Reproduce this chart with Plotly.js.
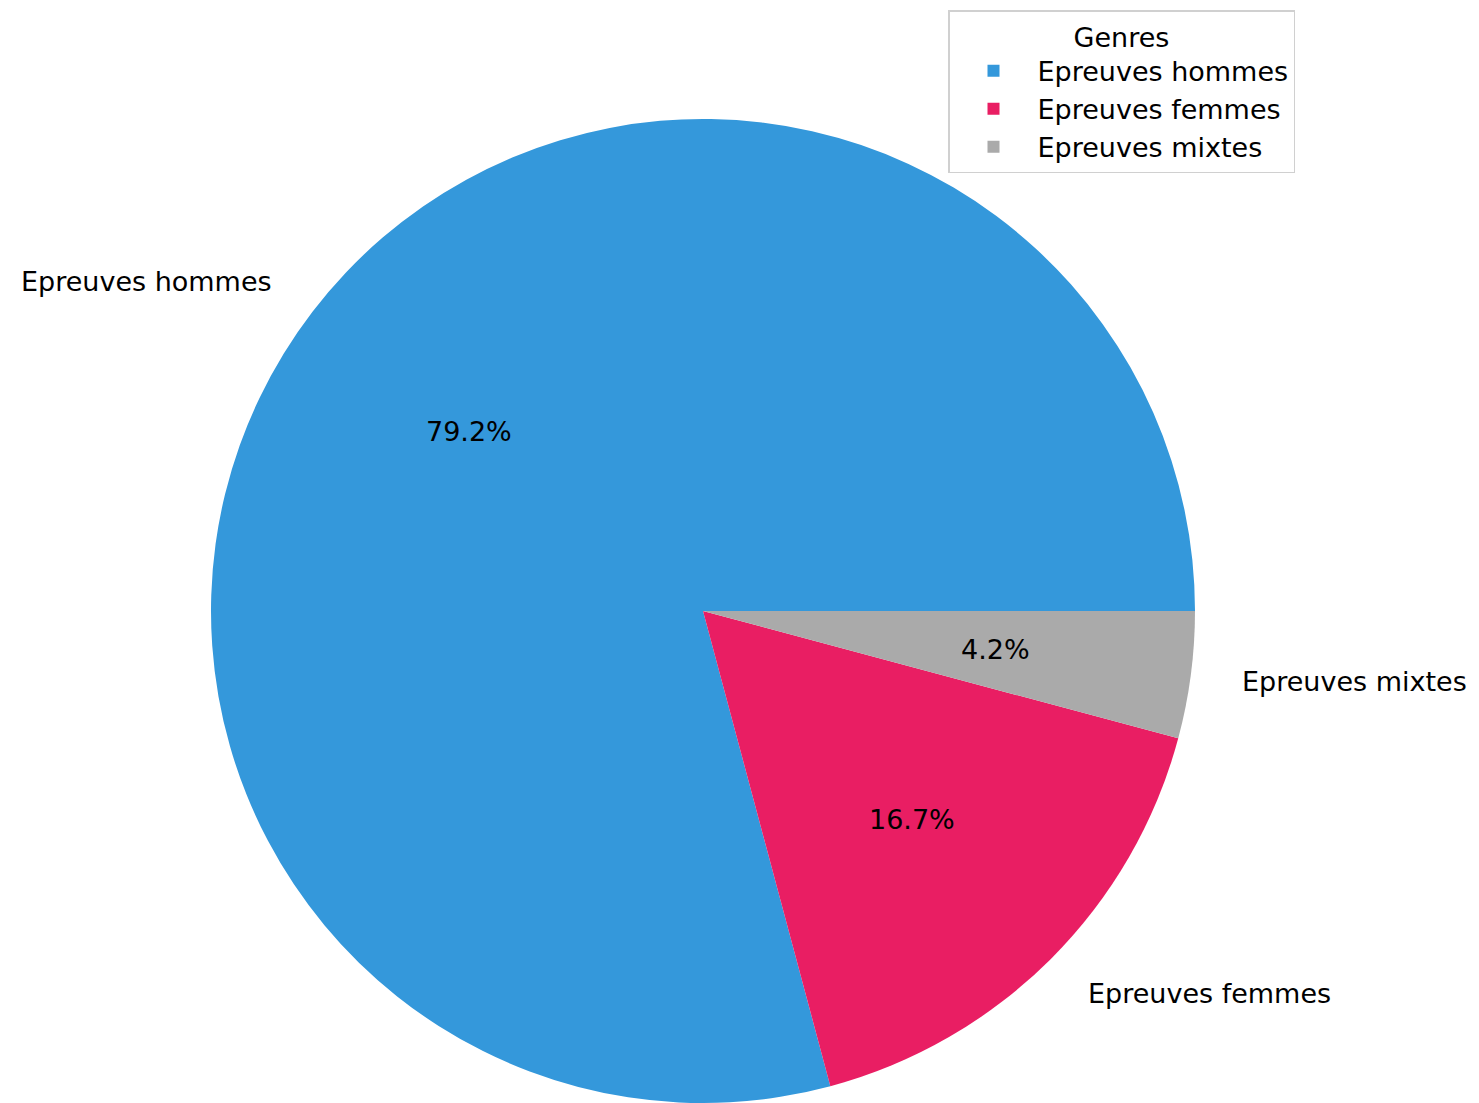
<!DOCTYPE html>
<html>
<head>
<meta charset="utf-8">
<script src="https://cdn.plot.ly/plotly-3.0.1.min.js"></script>
<style>html,body{margin:0;padding:0;background:#fff;}#chart{width:1479px;height:1103px;}</style>
</head>
<body>
<div id="chart"></div>
<script>
const categories = ["Epreuves hommes", "Epreuves femmes", "Epreuves mixtes"];
const counts = [19, 4, 1];
const colors = ["#3498db", "#e91e63", "#aaaaaa"];
const legendTitle = "Genres";

const W = 1479, H = 1103;
const cx = 703, cy = 611, R = 492;
const FONT = "DejaVu Sans";
const FS = 27;

// annotations derived from data (matplotlib-style: labels at 1.1R, pct at 0.6R)
const total = counts.reduce((a, b) => a + b, 0);
const annotations = [];
let start = 0;
counts.forEach((v, i) => {
  const frac = v / total;
  const mid = (start + frac / 2) * 2 * Math.PI;
  start += frac;
  const cosm = Math.cos(mid), sinm = Math.sin(mid);
  const lx = cx + 1.1 * R * cosm, ly = cy - 1.1 * R * sinm;
  const px = cx + 0.6 * R * cosm, py = cy - 0.6 * R * sinm;
  annotations.push({
    xref: "paper", yref: "paper",
    x: lx / W, y: 1 - ly / H,
    xanchor: cosm >= 0 ? "left" : "right", yanchor: "middle",
    text: categories[i], showarrow: false,
    font: {family: FONT, size: FS, color: "#000"}
  });
  annotations.push({
    xref: "paper", yref: "paper",
    x: px / W, y: 1 - py / H,
    xanchor: "center", yanchor: "middle",
    text: (frac * 100).toFixed(1) + "%", showarrow: false,
    font: {family: FONT, size: FS, color: "#000"}
  });
});

// Plotly counterclockwise: first slice lies clockwise of the rotation point,
// so place the rotation at the end of the first slice to start it at 3 o'clock.
const rotation = 90 - 360 * counts[0] / total;

const trace = {
  type: "pie",
  labels: categories,
  values: counts,
  sort: false,
  direction: "counterclockwise",
  rotation: rotation,
  textinfo: "none",
  hoverinfo: "label+percent",
  marker: {colors: colors, line: {width: 0}},
  domain: {x: [(cx - R) / W, (cx + R) / W], y: [1 - (cy + R) / H, 1 - (cy - R) / H]}
};

const layout = {
  width: W, height: H,
  margin: {l: 0, r: 0, t: 0, b: 0},
  paper_bgcolor: "#fff",
  showlegend: true,
  legend: {
    x: 948 / W, y: 1 - 10 / H, xanchor: "left", yanchor: "top",
    bgcolor: "rgba(255,255,255,0.8)", bordercolor: "#d0d0d0", borderwidth: 1.5,
    font: {family: FONT, size: FS, color: "#000"},
    title: {text: legendTitle, side: "top center", font: {family: FONT, size: FS, color: "#000"}},
    itemwidth: 78
  },
  annotations: annotations
};

Plotly.newPlot("chart", [trace], layout, {displayModeBar: false});
</script>
</body>
</html>
